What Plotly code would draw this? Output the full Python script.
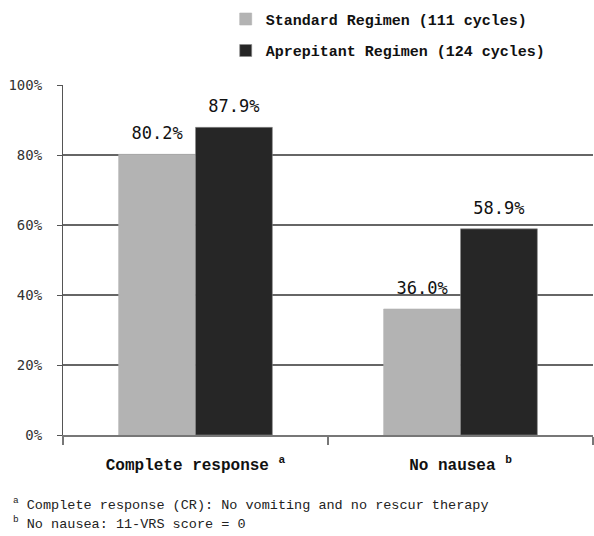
import plotly.graph_objects as go

# Endpoints and response rates (%)
categories = ["Complete response <sup>a</sup>", "No nausea <sup>b</sup>"]
standard_rates = [80.2, 36.0]
aprepitant_rates = [87.9, 58.9]
series_names = ["Standard Regimen (111 cycles)", "Aprepitant Regimen (124 cycles)"]
series_colors = ["#b3b3b3", "#262626"]
y_ticks = [0, 20, 40, 60, 80, 100]
y_tick_labels = ["0%", "20%", "40%", "60%", "80%", "100%"]
footnotes = [
    "<sup>a</sup> Complete response (CR): No vomiting and no rescur therapy",
    "<sup>b</sup> No nausea: 11-VRS score = 0",
]

MONO = "Liberation Mono"
SANS_MONO = "DejaVu Sans Mono"

fig = go.Figure()
for i, (name, vals, col) in enumerate(zip(series_names, [standard_rates, aprepitant_rates], series_colors)):
    fig.add_trace(go.Bar(
        x=categories, y=vals, name=name,
        marker=dict(color=col, line=dict(color="#8a8a8a" if i else col, width=0.6)),
        offsetgroup=str(i), legendgroup=str(i),
        hoverinfo="skip",
    ))
# value labels above each bar
for i, vals in enumerate([standard_rates, aprepitant_rates]):
    fig.add_trace(go.Scatter(
        x=categories, y=vals, mode="text+markers",
        marker=dict(size=16, opacity=0),
        text=[f"{v:.1f}%" for v in vals], textposition="top center",
        textfont=dict(family=SANS_MONO, size=17, color="#111"),
        offsetgroup=str(i), showlegend=False, hoverinfo="skip", cliponaxis=False,
    ))

fig.update_layout(
    width=594, height=536,
    margin=dict(l=63, r=1, t=85, b=101),
    paper_bgcolor="white", plot_bgcolor="white",
    barmode="group", scattermode="group", bargap=0.42, bargroupgap=0,
    showlegend=True,
    legend=dict(
        x=0.307, y=1.235, xanchor="left", yanchor="top",
        font=dict(family=MONO, size=15, color="#111", weight="bold"),
        traceorder="grouped", tracegroupgap=9, itemwidth=30,
        bgcolor="rgba(0,0,0,0)",
    ),
    xaxis=dict(
        showline=True, linecolor="#777", linewidth=1.5,
        ticks="outside", tickson="boundaries", ticklen=8, tickcolor="#777", tickwidth=1.5,
        tickfont=dict(family=MONO, size=16, color="#111", weight="bold"),
        ticklabelstandoff=14,
        showgrid=False,
    ),
    yaxis=dict(
        range=[0, 100], tickvals=y_ticks, ticktext=y_tick_labels,
        showline=True, linecolor="#555", linewidth=1.2,
        ticks="outside", ticklen=5, tickcolor="#555", tickwidth=1.2,
        ticklabelstandoff=12,
        showgrid=True, gridcolor="#666", gridwidth=1.5,
        tickfont=dict(family=SANS_MONO, size=14, color="#333"),
        zeroline=False,
    ),
)

for j, note in enumerate(footnotes):
    fig.add_annotation(
        text=note, xref="paper", yref="paper", x=-0.098, y=-0.198 - j * 0.052,
        xanchor="left", yanchor="middle", showarrow=False,
        font=dict(family=MONO, size=13.5, color="#222"),
    )

fig.write_html("out.html")
